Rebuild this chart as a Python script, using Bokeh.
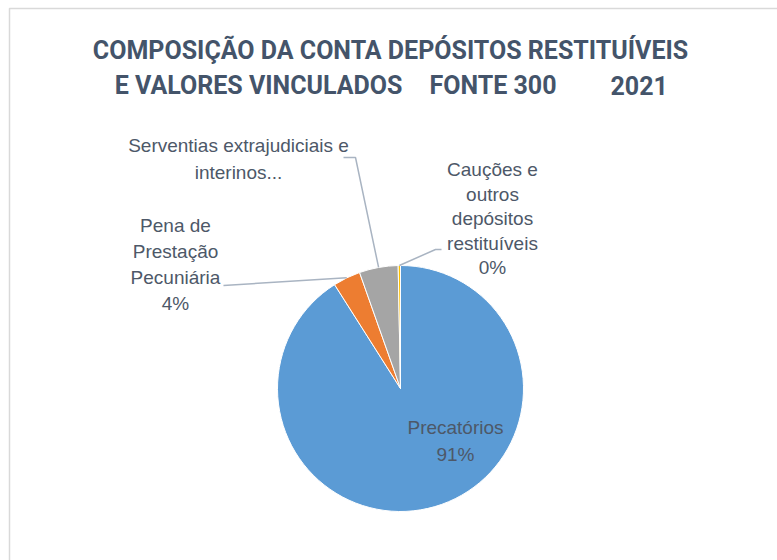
import numpy as np
from bokeh.plotting import figure
from bokeh.models import Range1d, ColumnDataSource
from bokeh.core.properties import value
from bokeh.embed import file_html
from bokeh.resources import INLINE

# ---- data ----
categories = ["Precatórios", "Pena de Prestação Pecuniária",
              "Serventias extrajudiciais e interinos...",
              "Cauções e outros depósitos restituíveis"]
values = [91.0, 3.6, 5.1, 0.3]
pct_labels = ["91%", "4%", "", "0%"]
colors = ["#5B9BD5", "#ED7D31", "#A5A5A5", "#FFC000"]
label_lines = [["Precatórios", "91%"],
               ["Pena de", "Prestação", "Pecuniária", "4%"],
               ["Serventias extrajudiciais e", "interinos..."],
               ["Cauções e", "outros", "depósitos", "restituíveis", "0%"]]
title_line1 = "COMPOSIÇÃO DA CONTA DEPÓSITOS RESTITUÍVEIS"
title_line2 = ["E VALORES VINCULADOS", "FONTE 300", "2021"]

# ---- layout (page pixel helpers) ----
W, H = 777, 560
TXT_SHIFT = 8  # renderer places text baselines slightly low
def px(x):
    return x
def py(y):
    return H - y
def ty(y):
    return H - (y - TXT_SHIFT)

p = figure(width=W, height=H, x_range=Range1d(0, W), y_range=Range1d(0, H),
           output_backend="svg", toolbar_location=None, min_border=0,
           background_fill_color="white", border_fill_color="white")
p.axis.visible = False
p.grid.visible = False
p.outline_line_color = None

# chart frame (left and top edges visible)
p.line(x=[px(9), px(9), W], y=[0, py(8), py(8)], line_color="#D9D9D9", line_width=1.5)

# ---- pie ----
cx, cy, r = px(400), py(388), 123
frac = np.array(values) / sum(values)
cum = np.concatenate([[0.0], np.cumsum(frac)]) * 2 * np.pi
start = np.pi / 2 - cum[:-1]
end = np.pi / 2 - cum[1:]
src = ColumnDataSource(dict(cat=categories, start=start, end=end, color=colors))
p.wedge(x=cx, y=cy, radius=r, start_angle="start", end_angle="end",
        direction="clock", fill_color="color", line_color="white",
        line_width=1, source=src)

mid = np.pi / 2 - (cum[:-1] + cum[1:]) / 2
ex = cx + r * np.cos(mid)
ey = cy + r * np.sin(mid)

# leader lines
lead_col = "#A9B4C2"
p.line(x=[ex[1], px(223)], y=[ey[1], py(285)], line_color=lead_col, line_width=1.5)
p.line(x=[ex[2], px(355), px(343)], y=[ey[2], py(157), py(157)], line_color=lead_col, line_width=1.5)
p.line(x=[ex[3], px(435), px(441)], y=[ey[3], py(249), py(249)], line_color=lead_col, line_width=1.5)

# ---- data labels ----
label_pos = [(455, 435, 27), (175, 233, 26), (238, 153, 27), (492, 177, 24.5)]
lx, ly, lt = [], [], []
for lines, (x0, y0, dy) in zip(label_lines, label_pos):
    for i, t in enumerate(lines):
        lx.append(px(x0)); ly.append(ty(y0 + i * dy)); lt.append(t)
p.text(x=lx, y=ly, text=lt, text_align="center", text_baseline="alphabetic",
       text_font=value("Liberation Sans"), text_font_size="19px",
       text_color="#4D5868")

# ---- title ----
tfont = value("Roboto")
p.text(x=[px(390)], y=[ty(58)], text=[title_line1], text_align="center",
       text_baseline="alphabetic", text_font=tfont, text_font_size="25px",
       text_font_style="bold", text_color="#44546A")
p.text(x=[px(402), px(429), px(610)], y=[ty(93)] * 3, text=title_line2,
       text_align=["right", "left", "left"], text_baseline="alphabetic",
       text_font=tfont, text_font_size="25px", text_font_style="bold",
       text_color="#44546A")

open("out.html", "w").write(file_html(p, INLINE))
